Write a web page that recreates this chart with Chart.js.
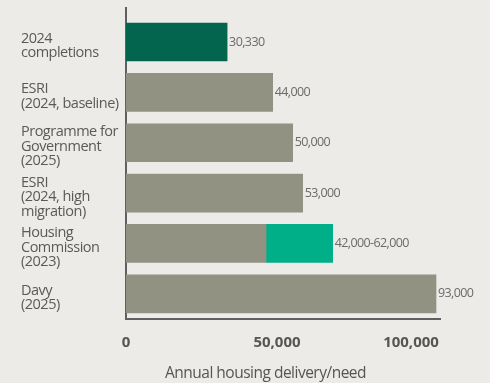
<!DOCTYPE html>
<html>
<head>
<meta charset="utf-8">
<script src="https://cdn.jsdelivr.net/npm/chart.js@4.4.1/dist/chart.umd.min.js"></script>
<style>
  html, body { margin: 0; padding: 0; background: #ECEBE7; }
  canvas { display: block; }
</style>
</head>
<body>
<canvas id="c" width="490" height="383"></canvas>
<script>
// ---- data ----
const categories = [
  ['2024', 'completions'],
  ['ESRI', '(2024, baseline)'],
  ['Programme for', 'Government', '(2025)'],
  ['ESRI', '(2024, high', 'migration)'],
  ['Housing', 'Commission', '(2023)'],
  ['Davy', '(2025)']
];
const baseValues  = [30330, 44000, 50000, 53000, 42000, 93000];
const rangeValues = [null, null, null, null, 20000, null];
const xTickLabels = ['0', '50,000', '100,000'];
const axisTitle = 'Annual housing delivery/need';

// ---- styles ----
const DARK_GREEN = '#04654F';
const GREY = '#929283';
const TEAL = '#00AF88';
const AXIS = '#606060';
const xTickPos = [0, 45300, 85500];   // where the reference prints its tick labels

const fmt = v => v.toLocaleString('en-US');
const valueLabels = baseValues.map((v, i) =>
  rangeValues[i] != null ? fmt(v) + '-' + fmt(v + rangeValues[i]) : fmt(v));

const noPad = s => { s.paddingTop = 0; s.paddingBottom = 0; s.paddingLeft = 0; s.paddingRight = 0; };

const labelPlugin = {
  id: 'valueLabels',
  beforeDraw(chart) {
    chart.ctx.letterSpacing = '-0.5px';
  },
  afterDatasetsDraw(chart) {
    const ctx = chart.ctx;
    ctx.save();
    ctx.letterSpacing = '-0.6px';
    ctx.font = '12.5px "Open Sans"';
    ctx.fillStyle = '#6a6a6a';
    ctx.textAlign = 'left';
    ctx.textBaseline = 'middle';
    categories.forEach((c, i) => {
      let end = null, y = null;
      chart.data.datasets.forEach((ds, d) => {
        const el = chart.getDatasetMeta(d).data[i];
        if (el && ds.data[i] && ds.data[i].x != null) {
          const p = el.getProps(['x', 'y'], true);
          if (end === null || p.x > end) { end = p.x; y = p.y; }
        }
      });
      if (end !== null) ctx.fillText(valueLabels[i], end + 2, y);
    });
    ctx.restore();
    ctx.letterSpacing = '0px';
  }
};

new Chart(document.getElementById('c'), {
  type: 'bar',
  data: {
    datasets: [
      {
        data: baseValues.map((v, i) => ({ x: v, y: i })),
        backgroundColor: baseValues.map((v, i) => i === 0 ? DARK_GREEN : GREY),
        barThickness: 38,
        grouped: false,
        borderWidth: 0
      },
      {
        data: rangeValues.map((v, i) => ({ x: v, y: i })),
        backgroundColor: TEAL,
        barThickness: 38,
        grouped: false,
        borderWidth: 0
      }
    ]
  },
  options: {
    indexAxis: 'y',
    responsive: false,
    animation: false,
    devicePixelRatio: 1,
    layout: { padding: { left: 21, right: -20, top: 8, bottom: 0 } },
    plugins: {
      legend: { display: false },
      tooltip: { enabled: false },
      title: {
        display: true,
        position: 'bottom',
        text: axisTitle,
        color: '#555555',
        font: { family: 'Open Sans', size: 15.5, weight: 'normal', lineHeight: 1.2 },
        padding: { top: 0, bottom: 0 }
      }
    },
    scales: {
      x: {
        type: 'linear',
        stacked: true,
        min: 0,
        max: 94200,
        grid: { display: false, drawTicks: false },
        border: { display: true, color: AXIS, width: 2, z: 1 },
        afterBuildTicks: s => { s.ticks = xTickPos.map(v => ({ value: v })); },
        afterFit: s => { s.height = 45.4; noPad(s); },
        ticks: {
          z: 1,
          padding: 15,
          color: '#555555',
          font: { family: 'Open Sans', size: 15, weight: 'bold', lineHeight: 1.2 },
          callback: (v, i) => xTickLabels[i]
        }
      },
      y: {
        type: 'linear',
        reverse: true,
        offset: false,
        min: -0.675,
        max: 5.5,
        grid: { display: false, drawTicks: false, offset: false },
        border: { display: true, color: AXIS, width: 2 },
        afterBuildTicks: s => { s.ticks = categories.map((c, i) => ({ value: i + 0.08 })); },
        afterFit: s => { s.width = 105; noPad(s); },
        ticks: {
          crossAlign: 'far',
          padding: 0,
          autoSkip: false,
          color: '#5a5a5a',
          font: { family: 'Open Sans', size: 14.5, lineHeight: 1.0 },
          callback: (v, i) => categories[i]
        }
      },
      yR: {
        axis: 'y',
        type: 'linear',
        position: 'right',
        display: true,
        offset: false,
        grid: { display: false, drawTicks: false },
        border: { display: false },
        ticks: { display: false },
        afterFit: s => { s.width = 70; noPad(s); }
      }
    }
  },
  plugins: [labelPlugin]
});
</script>
</body>
</html>
